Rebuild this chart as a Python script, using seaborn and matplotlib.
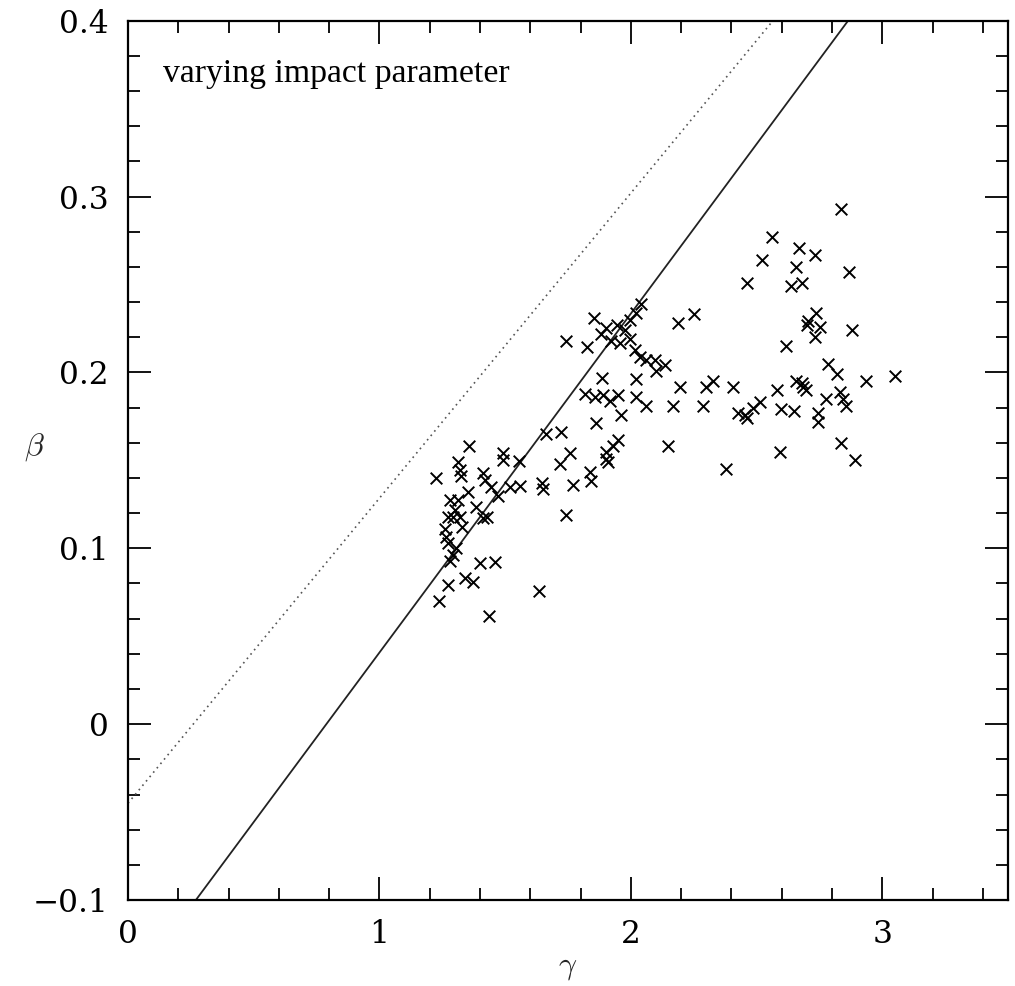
import matplotlib
matplotlib.use("Agg")
import matplotlib.pyplot as plt
from matplotlib.ticker import MultipleLocator
import seaborn as sns
import pandas as pd

# ---- data ----
gamma = [
    1.225, 1.313, 1.319, 1.326, 1.357, 1.413, 1.418, 1.445, 1.353, 1.472,
    1.492, 1.492, 1.556, 1.519, 1.559, 1.645, 1.651, 1.280, 1.313, 1.319,
    1.293, 1.273, 1.413, 1.427, 1.386, 1.260, 1.266, 1.273, 1.306, 1.293,
    1.280, 1.400, 1.459, 1.339, 1.373, 1.273, 1.238, 1.436, 1.635, 1.300,
    1.330,
    1.662, 1.724, 1.757, 1.718, 1.768, 1.744, 1.837, 1.843, 1.863, 1.950,
    1.930, 1.903, 1.910, 1.903, 1.962, 1.817, 1.857, 1.890, 1.916, 1.950,
    2.022, 2.062, 2.166, 2.285, 1.886, 2.019, 2.195, 2.298, 2.327, 2.407,
    2.148, 2.379, 2.592, 2.834, 2.890,
    1.744, 1.824, 1.854, 1.883, 1.903, 1.943, 1.976, 1.923, 1.956, 1.996,
    1.996, 2.016, 2.036, 2.062, 2.095, 2.101, 2.135, 2.042, 2.022, 2.186,
    2.252,
    2.837, 2.562, 2.668, 2.734, 2.521, 2.658, 2.868, 2.462, 2.638, 2.679,
    2.738, 2.699, 2.703, 2.753, 2.733, 2.880, 2.616, 2.785, 2.820, 2.934,
    3.050, 2.685, 2.695, 2.680, 2.658, 2.583, 2.831, 2.778, 2.857, 2.844,
    2.745, 2.745, 2.599, 2.648, 2.427, 2.453, 2.460, 2.487, 2.513,
]
beta = [
    0.140, 0.149, 0.1445, 0.141, 0.158, 0.1426, 0.1388, 0.135, 0.132, 0.130,
    0.154, 0.150, 0.1496, 0.135, 0.1354, 0.137, 0.134, 0.1274, 0.1274, 0.118,
    0.118, 0.118, 0.117, 0.118, 0.1236, 0.111, 0.1066, 0.103, 0.100, 0.096,
    0.093, 0.0915, 0.092, 0.083, 0.081, 0.079, 0.070, 0.0615, 0.0757, 0.122,
    0.112,
    0.165, 0.1663, 0.154, 0.148, 0.136, 0.119, 0.1435, 0.138, 0.171, 0.1615,
    0.158, 0.151, 0.149, 0.155, 0.1757, 0.188, 0.186, 0.187, 0.184, 0.187,
    0.186, 0.181, 0.181, 0.181, 0.1966, 0.196, 0.192, 0.192, 0.195, 0.192,
    0.158, 0.145, 0.155, 0.160, 0.150,
    0.218, 0.2145, 0.231, 0.222, 0.225, 0.227, 0.224, 0.218, 0.2165, 0.219,
    0.230, 0.213, 0.209, 0.207, 0.207, 0.201, 0.204, 0.239, 0.234, 0.228,
    0.233,
    0.293, 0.277, 0.271, 0.267, 0.264, 0.260, 0.257, 0.251, 0.249, 0.251,
    0.234, 0.227, 0.229, 0.226, 0.220, 0.224, 0.215, 0.205, 0.199, 0.195,
    0.198, 0.192, 0.190, 0.194, 0.195, 0.190, 0.189, 0.185, 0.181, 0.185,
    0.177, 0.172, 0.179, 0.178, 0.177, 0.176, 0.174, 0.180, 0.183,
]

# solid relation (end points on the frame)
solid_gamma = [0.270, 2.864]
solid_beta = [-0.10, 0.40]
# dotted relation
dotted_gamma = [0.0, 2.565]
dotted_beta = [-0.045, 0.40]

x_ticks = [0, 1, 2, 3]
y_ticks = [-0.1, 0, 0.1, 0.2, 0.3, 0.4]
y_tick_labels = ["\u22120.1", "0", "0.1", "0.2", "0.3", "0.4"]
annotation = "varying impact parameter"

# ---- plotting ----
sns.set_theme(style="white")
plt.rcParams["font.family"] = ["DejaVu Serif", "DejaVu Sans"]
plt.rcParams["mathtext.fontset"] = "cm"

fig = plt.figure(figsize=(10.15, 9.86), dpi=100)
ax = fig.add_axes([0.1261, 0.0872, 0.8670, 0.8918])

df = pd.DataFrame({"gamma": gamma, "beta": beta})
sns.scatterplot(data=df, x="gamma", y="beta", marker="x", color="black",
                s=70, linewidth=1.4, ax=ax, legend=False, zorder=3)

sns.lineplot(x=solid_gamma, y=solid_beta, color="#222222", linewidth=1.3,
             ax=ax, estimator=None, sort=False)
sns.lineplot(x=dotted_gamma, y=dotted_beta, color="#555555", linewidth=1.2,
             linestyle=(0, (1, 2.4)), ax=ax, estimator=None, sort=False)

ax.set_xlim(0, 3.5)
ax.set_ylim(-0.1, 0.4)
ax.set_xticks(x_ticks)
ax.set_xticklabels([str(t) for t in x_ticks])
ax.set_yticks(y_ticks)
ax.set_yticklabels(y_tick_labels)
ax.xaxis.set_minor_locator(MultipleLocator(0.2))
ax.yaxis.set_minor_locator(MultipleLocator(0.02))

ax.tick_params(which="both", direction="in", top=True, right=True,
               bottom=True, left=True, colors="black")
ax.tick_params(which="major", length=16.5, width=1.3, labelsize=22.5)
ax.tick_params(which="minor", length=8.5, width=1.3)
ax.tick_params(axis="y", which="major", pad=14)
ax.tick_params(axis="x", which="major", pad=14)

for sp in ax.spines.values():
    sp.set_color("black")
    sp.set_linewidth(1.6)

ax.set_xlabel(r"$\gamma$", fontsize=23)
ax.xaxis.set_label_coords(0.5, -0.058)
ax.set_ylabel(r"$\beta$", fontsize=23, rotation=0)
ax.yaxis.set_label_coords(-0.106, 0.497)

ax.text(0.04, 0.94, annotation, transform=ax.transAxes, fontsize=24.3,
        family=["Liberation Serif", "DejaVu Serif"],
        ha="left", va="center", color="black")

fig.savefig("out.png", dpi=100, facecolor="white")
